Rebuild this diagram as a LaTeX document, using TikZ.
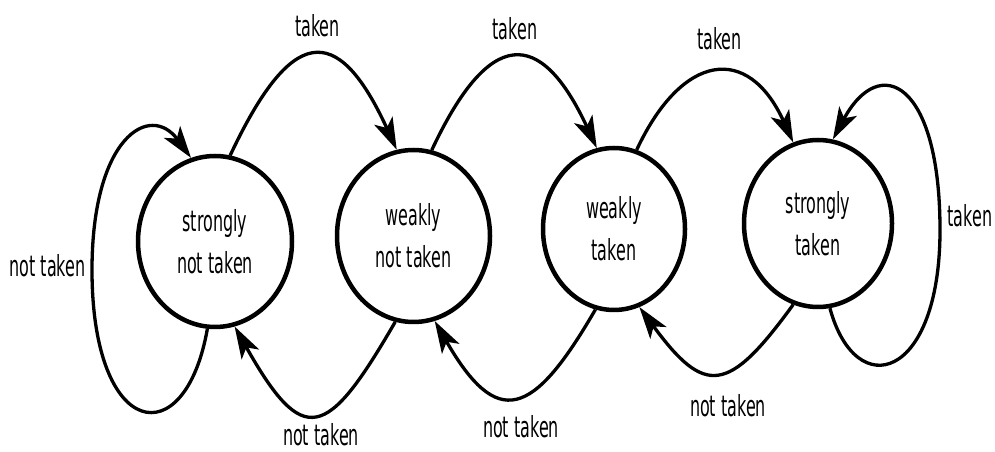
\documentclass[tikz,border=0pt]{standalone}
\usepackage{fontspec}
\setmainfont{DejaVu Sans}[FakeStretch=0.55]
\usetikzlibrary{shapes.geometric,arrows.meta}

\begin{document}
\begin{tikzpicture}[x=1pt, y=1pt,
        predstate/.style={ellipse, draw, line width=4.5pt, inner sep=0pt, align=center, font=\fontsize{29}{42}\selectfont},
        trans/.style={line width=3.3pt, -{Stealth[length=32pt, width=20pt, inset=8pt]}},
        lbl/.style={anchor=base, inner sep=0pt, font=\fontsize{29}{42}\selectfont}]
        \useasboundingbox (0,0) rectangle (995,452);

        % The four states of the counter
        \node[predstate, minimum width=154pt, minimum height=171pt] (snt) at (215,210.5) {strongly\\not taken};
        \node[predstate, minimum width=153pt, minimum height=172pt] (wnt) at (413.5,216) {weakly\\not taken};
        \node[predstate, minimum width=142pt, minimum height=162pt] (wt) at (614,223) {weakly\\taken};
        \node[predstate, minimum width=148pt, minimum height=167pt] (st) at (818,228.5) {strongly\\taken};

        % Outer points of the two self loops
        \coordinate (sloop) at (92,182);
        \coordinate (tloop) at (940,222);

        % Taken - moving right along the top
        \draw[trans] (snt.80) .. controls (290.5,424.6) and (336.5,433.6) .. (wnt.101);
        \draw[trans] (wnt.78) .. controls (489,424) and (540,426) .. (wt.102);
        \draw[trans] (wt.74) .. controls (682,399) and (748,409) .. (st.107);
        \draw[trans] (st.278) .. controls (856,48) and (940,72) .. (tloop)
                     .. controls (940,370) and (880,400) .. (st.80);

        % Not taken - moving left along the bottom
        \draw[trans] (st.253) .. controls (728,57.7) and (705,55.7) .. (wt.288);
        \draw[trans] (wt.257) .. controls (532.6,34) and (497.4,22) .. (wnt.284);
        \draw[trans] (wnt.258) .. controls (326.5,11.4) and (303.5,3.4) .. (snt.283);
        \draw[trans] (snt.265) .. controls (185,-4) and (92,12) .. (sloop)
                     .. controls (92,315) and (150,350) .. (snt.106);

        % Labels
        \node[lbl] (tk1) at (317.5,415) {taken};
        \node[lbl] (tk2) at (515,412) {taken};
        \node[lbl] (tk3) at (719.5,402) {taken};
        \node[lbl] (tk4) at (970,225) {taken};
        \node[lbl] (nt1) at (728,35) {not taken};
        \node[lbl] (nt2) at (521,14) {not taken};
        \node[lbl] (nt3) at (321,6) {not taken};
        \node[lbl] (nt4) at (47.5,175) {not taken};
    \end{tikzpicture}
\end{document}
